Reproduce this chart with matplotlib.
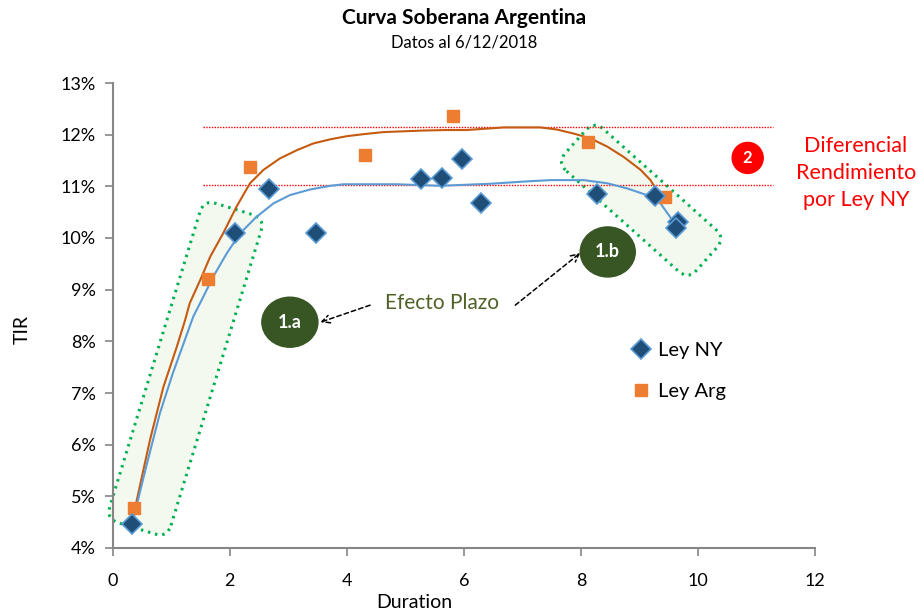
import matplotlib
matplotlib.use("Agg")
import matplotlib.pyplot as plt
from matplotlib.patches import FancyBboxPatch, Ellipse
from matplotlib.transforms import Affine2D

plt.rcParams['font.family'] = ['Lato', 'DejaVu Sans']

# ---- data ----
ny_dur = [0.33, 2.10, 2.67, 3.48, 5.27, 5.63, 5.97, 6.30, 8.27, 9.27, 9.66, 9.63]
ny_tir = [4.47, 10.10, 10.95, 10.10, 11.15, 11.17, 11.53, 10.67, 10.86, 10.81, 10.31, 10.19]

arg_dur = [0.37, 1.63, 2.35, 4.32, 5.82, 8.13, 9.43]
arg_tir = [4.78, 9.21, 11.38, 11.61, 12.36, 11.86, 10.79]

# fitted curves
arg_fit_x = [0.40, 0.64, 0.87, 1.10, 1.24, 1.32, 1.50, 1.67, 1.89, 2.12, 2.35, 2.58,
             2.86, 3.15, 3.43, 3.72, 4.00, 4.29, 4.63, 5.31, 5.71, 6.05, 6.68, 7.31,
             7.59, 7.88, 8.16, 8.45, 8.73, 9.02, 9.19, 9.33, 9.41]
arg_fit_y = [4.85, 6.09, 7.12, 7.90, 8.41, 8.74, 9.19, 9.64, 10.09, 10.61, 11.06, 11.32,
             11.54, 11.70, 11.83, 11.91, 11.97, 12.01, 12.05, 12.08, 12.09, 12.09, 12.14, 12.14,
             12.10, 12.02, 11.93, 11.77, 11.57, 11.32, 11.12, 10.86, 10.77]

ny_fit_x = [0.35, 0.59, 0.81, 1.03, 1.38, 1.55, 1.72, 1.95, 2.18, 2.46, 2.75, 3.03,
            3.38, 3.72, 3.95, 4.86, 5.60, 6.45, 7.14, 7.48, 8.05, 8.45, 8.79, 9.13,
            9.36, 9.53, 9.63]
ny_fit_y = [4.54, 5.64, 6.61, 7.38, 8.48, 8.86, 9.25, 9.70, 10.09, 10.41, 10.67, 10.83,
            10.94, 11.01, 11.04, 11.04, 11.01, 11.05, 11.10, 11.12, 11.12, 11.06, 10.96, 10.83,
            10.67, 10.40, 10.22]

diff_levels = [12.15, 11.02]
diff_x = [1.55, 11.29]

x_ticks = [0, 2, 4, 6, 8, 10, 12]
y_ticks = [4, 5, 6, 7, 8, 9, 10, 11, 12, 13]

W, H = 918, 616
fig = plt.figure(figsize=(W / 100, H / 100), dpi=100)
ax = fig.add_axes([112.5 / W, (H - 548) / H, (815 - 112.5) / W, (548 - 83) / H])
ax.set_xlim(0, 12)
ax.set_ylim(4, 13)

grey = '#868686'
for s in ['top', 'right']:
    ax.spines[s].set_visible(False)
for s in ['left', 'bottom']:
    ax.spines[s].set_color(grey)
    ax.spines[s].set_linewidth(1.5)
ax.tick_params(axis='both', colors=grey, width=1.2, length=6, direction='out',
               labelcolor='black', labelsize=13)
ax.tick_params(axis='x', pad=12)
ax.tick_params(axis='y', pad=6)
ax.set_xticks(x_ticks)
ax.set_xticklabels([str(v) for v in x_ticks])
ax.set_yticks(y_ticks)
ax.set_yticklabels([f'{v}%' for v in y_ticks])

fig.text(414 / W, (H - 603) / H, 'Duration', fontsize=14, ha='center', va='center')
fig.text(22 / W, (H - 330) / H, 'TIR', fontsize=14, ha='center', va='center',
         rotation=90)

fig.canvas.draw()

# rotated highlight boxes (pixel sizes, centre in data coords)
def rot_box(cx_d, cy_d, length, width, angle, r=13):
    cx, cy = ax.transData.transform((cx_d, cy_d))
    p = FancyBboxPatch((cx - length / 2, cy - width / 2), length, width,
                       boxstyle=f"round,pad=0,rounding_size={r}",
                       facecolor='#f4f9f0', edgecolor='#00b050',
                       linewidth=2.2, linestyle=(0, (0.8, 1.6)),
                       transform=Affine2D().rotate_deg_around(cx, cy, angle),
                       zorder=1, clip_on=False)
    ax.add_patch(p)

rot_box(1.246, 7.47, 334, 64, 73)
rot_box(9.03, 10.73, 176, 56, -41.8)

# red dotted lines
for lv in diff_levels:
    ax.plot(diff_x, [lv, lv], color='#ff0000', linewidth=1.0,
            linestyle=(0, (1, 1)), zorder=2, clip_on=False)

# fitted curves
ax.plot(arg_fit_x, arg_fit_y, color='#c55a11', linewidth=1.5, zorder=3)
ax.plot(ny_fit_x, ny_fit_y, color='#5b9bd5', linewidth=1.5, zorder=3)

# points
ax.plot(ny_dur, ny_tir, linestyle='none', marker='D', markersize=10,
        markerfacecolor='#1f4e79', markeredgecolor='#5b9bd5', markeredgewidth=1.2,
        label='Ley NY', zorder=5, clip_on=False)
ax.plot(arg_dur, arg_tir, linestyle='none', marker='s', markersize=9,
        markerfacecolor='#ed7d31', markeredgecolor='#ed7d31',
        label='Ley Arg', zorder=4, clip_on=False)

leg = ax.legend(loc='upper left', bbox_to_anchor=(625 / W, (H - 334) / H),
                bbox_transform=fig.transFigure, frameon=False, fontsize=14.5,
                handlelength=0.8, handletextpad=0.45, labelspacing=1.2,
                borderaxespad=0)

# circles
green = '#375623'
ax.add_patch(Ellipse((3.03, 8.37), 0.957, 0.968, color=green, zorder=6))
ax.text(3.03, 8.37, '1.a', color='white', fontsize=13, fontweight='bold',
        ha='center', va='center', zorder=7)
ax.add_patch(Ellipse((8.46, 9.73), 0.94, 0.968, color=green, zorder=6))
ax.text(8.46, 9.73, '1.b', color='white', fontsize=13, fontweight='bold',
        ha='center', va='center', zorder=7)
ax.add_patch(Ellipse((10.85, 11.55), 0.53, 0.60, color='#ff0000', zorder=6,
                     clip_on=False))
ax.text(10.85, 11.55, '2', color='white', fontsize=12, fontweight='bold',
        ha='center', va='center', zorder=7)

# Efecto Plazo text + arrows
ax.text(5.63, 8.74, 'Efecto Plazo', color='#4f6228', fontsize=15,
        ha='center', va='center', zorder=7)
ax.annotate('', xy=(3.55, 8.37), xytext=(4.40, 8.70),
            arrowprops=dict(arrowstyle='->', linestyle=(0, (3, 2)), color='black',
                            lw=1.1, mutation_scale=14, shrinkA=0, shrinkB=0))
ax.annotate('', xy=(7.99, 9.71), xytext=(6.88, 8.70),
            arrowprops=dict(arrowstyle='->', linestyle=(0, (3, 2)), color='black',
                            lw=1.1, mutation_scale=14, shrinkA=0, shrinkB=0))

# red explanatory text
fig.text(856 / W, (H - 173) / H, 'Diferencial\nRendimiento\npor Ley NY',
         color='#ff0000', fontsize=15.5, ha='center', va='center',
         linespacing=1.42)

# titles
fig.text(464 / W, (H - 18) / H, 'Curva Soberana Argentina', fontsize=15,
         fontweight='bold', ha='center', va='center')
fig.text(464 / W, (H - 43) / H, 'Datos al 6/12/2018', fontsize=12,
         ha='center', va='center')

fig.savefig('out.png', dpi=100)
